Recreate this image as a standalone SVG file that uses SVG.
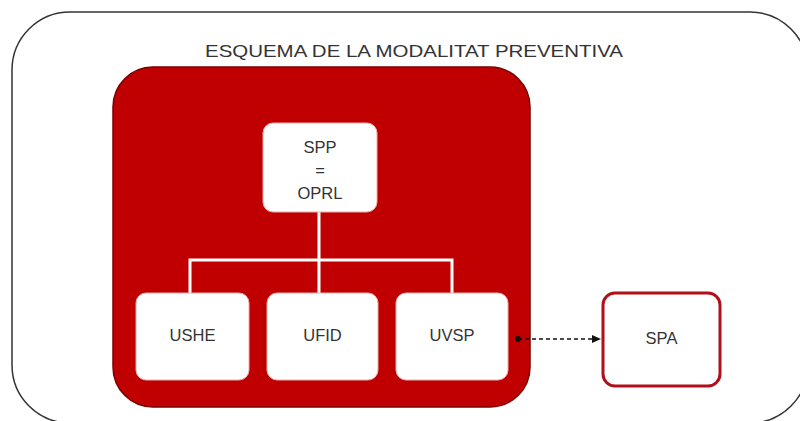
<svg xmlns="http://www.w3.org/2000/svg" width="800" height="421" viewBox="0 0 800 421">
<defs>
<style>
.lbl{font-family:"Liberation Sans",Arial,sans-serif;font-size:16.5px;fill:#333;text-anchor:middle}
.box{fill:#fff;stroke:#e8b0b0;stroke-width:1}
.conn{stroke:#fff;stroke-width:3;fill:none}
</style>
<marker id="arr" markerWidth="10" markerHeight="10" refX="8" refY="5" orient="auto" markerUnits="userSpaceOnUse">
<path d="M0,1 L9,5 L0,9 Z" fill="#111"/>
</marker>
<marker id="dot" markerWidth="8" markerHeight="8" refX="4" refY="4" markerUnits="userSpaceOnUse">
<circle cx="4" cy="4" r="3" fill="#111"/>
</marker>
</defs>
<rect width="800" height="421" fill="#fff"/>
<g id="frame">
<rect x="12" y="12" width="796" height="411" rx="58" ry="58" fill="#fff" stroke="#333" stroke-width="1.5"/>
<text x="414" y="57" class="lbl" style="font-size:17px" textLength="418" lengthAdjust="spacingAndGlyphs">ESQUEMA DE LA MODALITAT PREVENTIVA</text>
</g>
<g id="modalitat">
<rect x="113" y="67" width="417" height="340" rx="40" ry="40" fill="#c00000" stroke="#7a0000" stroke-width="1.5"/>
</g>
<g id="connectors">
<path class="conn" d="M319,212 V293 M190,260 H452 M190,258.5 V293 M452,258.5 V293"/>
<line x1="518" y1="339" x2="600" y2="339" stroke="#111" stroke-width="1.5" stroke-dasharray="4,3" marker-start="url(#dot)" marker-end="url(#arr)"/>
</g>
<g id="spp">
<rect class="box" x="263" y="123" width="114" height="89" rx="10"/>
<text class="lbl" x="320" y="153">SPP</text>
<text class="lbl" x="320" y="176">=</text>
<text class="lbl" x="320" y="199">OPRL</text>
</g>
<g id="ushe">
<rect class="box" x="136" y="293" width="113" height="87" rx="10"/>
<text class="lbl" x="192.5" y="341">USHE</text>
</g>
<g id="ufid">
<rect class="box" x="267" y="293" width="111" height="87" rx="10"/>
<text class="lbl" x="322.5" y="341">UFID</text>
</g>
<g id="uvsp">
<rect class="box" x="396" y="293" width="112" height="87" rx="10"/>
<text class="lbl" x="452" y="341">UVSP</text>
</g>
<g id="spa">
<rect x="603" y="293" width="117" height="93" rx="12" fill="#fff" stroke="#b0101a" stroke-width="3"/>
<text class="lbl" x="661.5" y="344">SPA</text>
</g>
</svg>
